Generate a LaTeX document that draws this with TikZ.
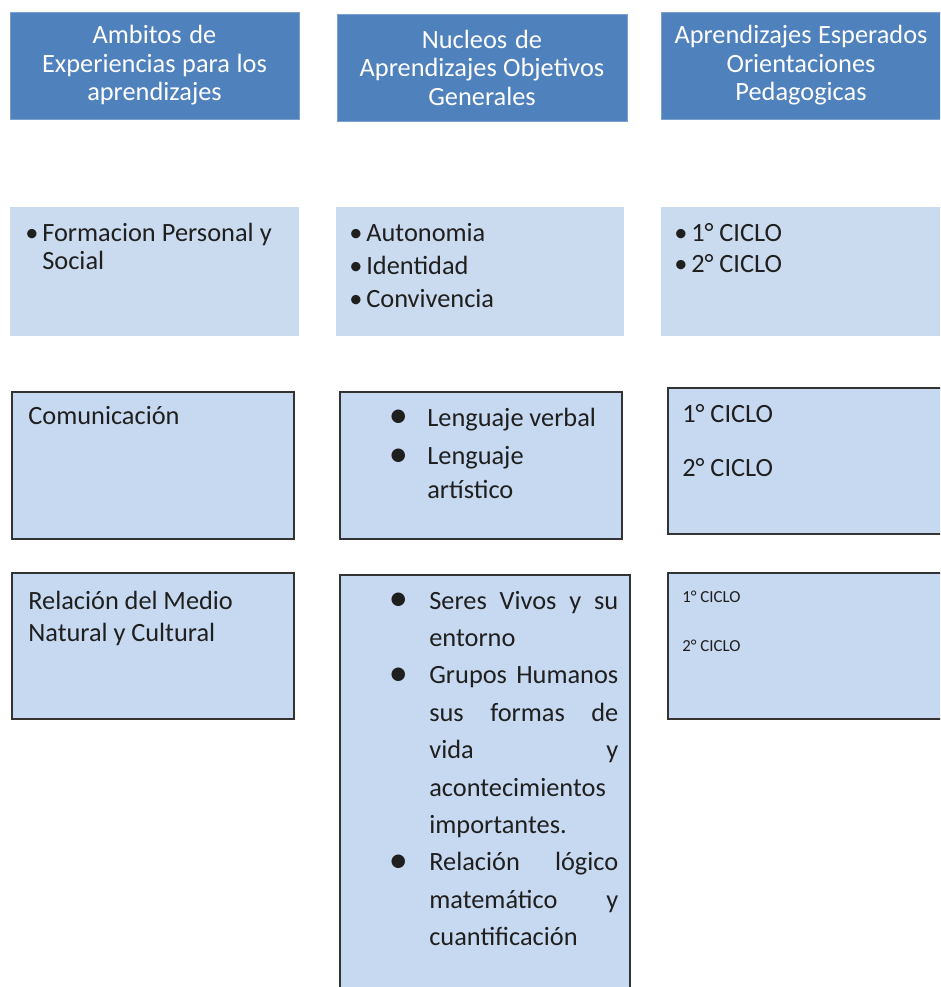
\documentclass[tikz,border=0pt]{standalone}
\usepackage{fontspec}
\usepackage{graphicx}
\setmainfont{Carlito}

\definecolor{headblue}{HTML}{4F81BD}
\definecolor{rowblue}{HTML}{CADAEF}
\definecolor{paleblue}{HTML}{C6D9F1}
\definecolor{inkgray}{HTML}{1F1F1F}

% narrow word spaces, as in the source
\newcommand{\tightsp}{\spaceskip=0.22em plus 0.05em\relax}
% full justification inside a node
\newcommand{\justsp}{\rightskip=0pt\relax\leftskip=0pt\relax\parfillskip=0pt plus 1fil\relax
	\spaceskip=0.22em plus 4em\relax\tolerance=10000\relax\hyphenpenalty=10000\relax\hbadness=10000\relax}
% bullet with hanging indent
\newcommand{\bul}[1]{\noindent\hangindent=#1\hangafter=1\makebox[#1][l]{\textbullet}}
\newcommand{\bigbul}[1]{\noindent\hangindent=#1\hangafter=1\makebox[#1][l]{\hspace*{-2.5pt}\raisebox{-0.12ex}{\scalebox{1.45}{\textbullet}}}}

\begin{document}
\begin{tikzpicture}[x=0.02cm, y=-0.02cm,
	head/.style={rectangle, fill=headblue, draw=headblue!75!white, line width=0.5pt,
		inner sep=0pt, align=center, text=white, font=\fontsize{15}{16.2}\selectfont},
	plain/.style={rectangle, fill=rowblue, inner sep=0pt},
	framed/.style={rectangle, fill=paleblue, draw=black!80, line width=1.1pt, inner sep=0pt},
	txt/.style={anchor=base west, inner sep=0pt, align=left, text=inkgray,
		font=\fontsize{15}{16.4}\selectfont}]

	\useasboundingbox (0,0) rectangle (940,987);
	\clip (0,0) rectangle (940,987);

	% titles
	\node [head, text width=5.78cm, minimum height=2.14cm] (hA) at (154.5,65.5)
		{\tightsp Ambitos de\\Experiencias para los\\aprendizajes};
	\node [head, text width=5.8cm, minimum height=2.14cm] (hB) at (482,67.5)
		{\tightsp Nucleos de\\Aprendizajes Objetivos\\Generales};
	\node [head, text width=5.8cm, minimum height=2.14cm] (hC) at (806,65.5)
		{\tightsp\hspace*{-0.2cm}Aprendizajes Esperados\\\hspace*{-0.2cm}Orientaciones\\\hspace*{-0.2cm}Pedagogicas};

	% first row
	\node [plain, minimum width=5.78cm, minimum height=2.58cm] (pA) at (154.5,271.5) {};
	\node [plain, minimum width=5.76cm, minimum height=2.58cm] (pB) at (480,271.5) {};
	\node [plain, minimum width=5.8cm, minimum height=2.58cm] (pC) at (806,271.5) {};
	\node [txt, text width=5.3cm] (tA) at (25,241)
		{\tightsp\bul{0.34cm}Formacion Personal y Social\par};
	\node [txt, text width=5.3cm, font=\fontsize{15}{19}\selectfont] (tB) at (349,241)
		{\tightsp\bul{0.34cm}Autonomia\par\bul{0.34cm}Identidad\par\bul{0.34cm}Convivencia\par};
	\node [txt, text width=5.3cm, font=\fontsize{15}{18.2}\selectfont] (tC) at (674,241)
		{\tightsp\bul{0.34cm}1° CICLO\par\bul{0.34cm}2° CICLO\par};

	% second row
	\node [framed, minimum width=5.64cm, minimum height=2.94cm] (fA) at (153,465.5) {};
	\node [framed, minimum width=5.64cm, minimum height=2.94cm] (fB) at (481,465.5) {};
	\node [framed, minimum width=5.66cm, minimum height=2.92cm] (fC) at (809.5,461) {};
	\node [txt, text width=5.2cm] (uA) at (28,424) {Comunicación};
	\node [txt, text width=4.5cm, font=\fontsize{15}{19.3}\selectfont] (uB) at (393,426)
		{\tightsp\setlength{\parskip}{2.8pt}\bigbul{0.68cm}Lenguaje verbal\par
		 \bigbul{0.68cm}Lenguaje\newline artístico\par};
	\node [txt, text width=5cm, font=\fontsize{15}{31.2}\selectfont] (uC) at (682,422)
		{\tightsp 1° CICLO\\2° CICLO};

	% third row
	\node [framed, minimum width=5.64cm, minimum height=2.92cm] (gA) at (153,646) {};
	\node [framed, minimum width=5.8cm, minimum height=8.5cm] (gB) at (485,787.5) {};
	\node [framed, minimum width=5.66cm, minimum height=2.92cm] (gC) at (809.5,646) {};
	\node [txt, text width=5.2cm, font=\fontsize{15}{18.7}\selectfont] (vA) at (28,609)
		{\tightsp Relación del Medio\\Natural y Cultural};
	\node [txt, text width=4.5cm, font=\fontsize{15}{21.3}\selectfont] (vB) at (393,609)
		{\justsp\bigbul{0.72cm}Seres Vivos y su\linebreak entorno\par
		 \bigbul{0.72cm}Grupos Humanos\linebreak sus formas de\linebreak vida y\linebreak acontecimientos\linebreak importantes.\par
		 \bigbul{0.72cm}Relación lógico\linebreak matemático y\linebreak cuantificación\par};
	\node [txt, text width=4cm, font=\fontsize{9.6}{28.3}\selectfont] (vC) at (682,602)
		{\tightsp 1° CICLO\\2° CICLO};
\end{tikzpicture}
\end{document}
